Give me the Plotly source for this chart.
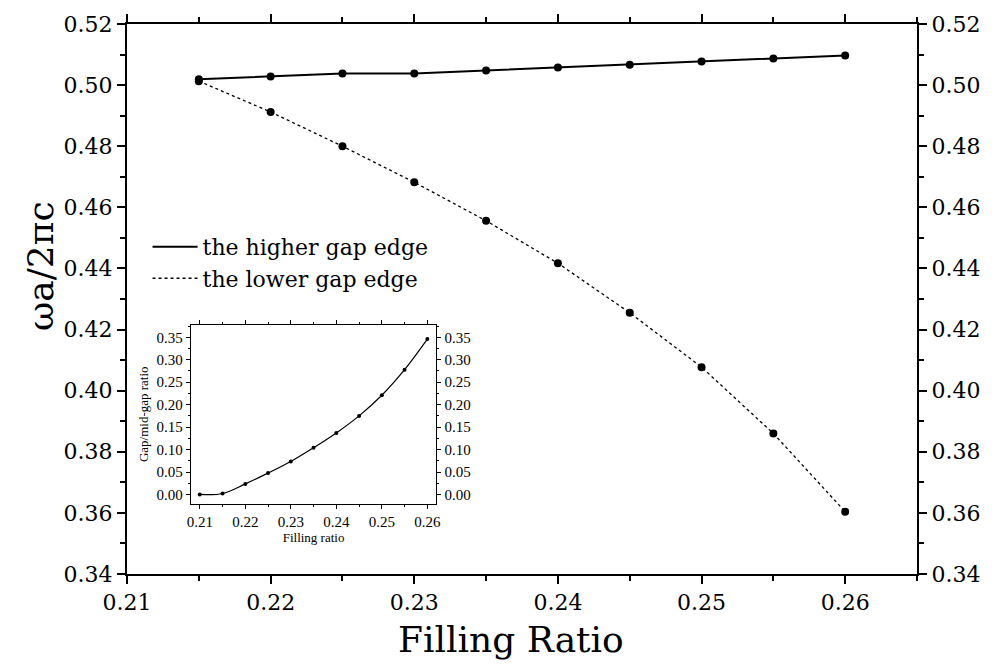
import plotly.graph_objects as go

filling = [0.215, 0.22, 0.225, 0.23, 0.235, 0.24, 0.245, 0.25, 0.255, 0.26]
higher_edge = [0.5019, 0.5028, 0.5038, 0.5038, 0.5048, 0.5058, 0.5067, 0.5077, 0.5087, 0.5097]
lower_edge = [0.5013, 0.4912, 0.4800, 0.4682, 0.4556, 0.4417, 0.4255, 0.4077, 0.3860, 0.3604]

inset_filling = [0.21, 0.215, 0.22, 0.225, 0.23, 0.235, 0.24, 0.245, 0.25, 0.255, 0.26]
gap_ratio = [0.0, 0.0022, 0.0235, 0.0477, 0.0734, 0.104, 0.137, 0.175, 0.221, 0.278, 0.346]

main_yticks = [0.34, 0.36, 0.38, 0.40, 0.42, 0.44, 0.46, 0.48, 0.50, 0.52]
main_xticks = [0.21, 0.22, 0.23, 0.24, 0.25, 0.26]
inset_yticks = [0.00, 0.05, 0.10, 0.15, 0.20, 0.25, 0.30, 0.35]
inset_xticks = [0.21, 0.22, 0.23, 0.24, 0.25, 0.26]

FONT = "Liberation Serif, serif"
BIG = "DejaVu Serif, Liberation Serif, serif"
fig = go.Figure()

# data traces
fig.add_trace(go.Scatter(x=filling, y=higher_edge, mode="lines+markers",
                         line=dict(color="black", width=2),
                         marker=dict(color="black", size=8), showlegend=False,
                         xaxis="x", yaxis="y"))
fig.add_trace(go.Scatter(x=filling, y=lower_edge, mode="lines+markers",
                         line=dict(color="black", width=1.3, dash="dot"),
                         marker=dict(color="black", size=8), showlegend=False,
                         xaxis="x", yaxis="y"))
# legend-only traces
fig.add_trace(go.Scatter(x=[None], y=[None], mode="lines", name="the higher gap edge",
                         line=dict(color="black", width=2)))
fig.add_trace(go.Scatter(x=[None], y=[None], mode="lines", name="the lower gap edge",
                         line=dict(color="black", width=1.3, dash="dot")))
# invisible trace for right axis
fig.add_trace(go.Scatter(x=[None], y=[None], xaxis="x", yaxis="y2", showlegend=False))

# inset
fig.add_trace(go.Scatter(x=inset_filling, y=gap_ratio, mode="lines+markers",
                         line=dict(color="black", width=1.2, shape="spline"),
                         marker=dict(color="black", size=4), showlegend=False,
                         xaxis="x3", yaxis="y3"))
fig.add_trace(go.Scatter(x=[None], y=[None], xaxis="x3", yaxis="y4", showlegend=False))

axis_common = dict(showline=True, linecolor="black", linewidth=2, showgrid=False,
                   zeroline=False, ticks="outside", tickcolor="black", tickwidth=1.5,
                   tickfont=dict(family=BIG, size=22, color="black"))

inset_common = dict(showline=True, linecolor="black", linewidth=1, showgrid=False,
                    zeroline=False, ticks="outside", tickcolor="black", tickwidth=1,
                    ticklen=4, tickfont=dict(family=FONT, size=15, color="black"))

fig.update_layout(
    width=992, height=668,
    margin=dict(l=127, r=71, t=18, b=94),
    plot_bgcolor="white", paper_bgcolor="white",
    font=dict(family=FONT, color="black"),
    showlegend=True,
    legend=dict(x=0.026, y=0.633, xanchor="left", yanchor="top",
                font=dict(family=BIG, size=22, color="black"),
                bgcolor="rgba(0,0,0,0)", tracegroupgap=0, itemwidth=45),
    xaxis=dict(axis_common, domain=[0, 1], range=[0.21, 0.265], tickvals=main_xticks,
               ticktext=[f"{v:.2f}" for v in main_xticks], ticklen=8, mirror="ticks",
               minor=dict(dtick=0.005, tick0=0.21, ticklen=5, ticks="outside", tickcolor="black", tickwidth=1.5),
               anchor="y"),
    yaxis=dict(axis_common, domain=[0, 1], range=[0.34, 0.52], tickvals=main_yticks,
               ticktext=[f"{v:.2f}" for v in main_yticks], ticklen=8, anchor="x",
               minor=dict(dtick=0.01, tick0=0.34, ticklen=5, ticks="outside", tickcolor="black", tickwidth=1.5)),
    yaxis2=dict(axis_common, range=[0.34, 0.52], tickvals=main_yticks,
                ticktext=[f"{v:.2f}" for v in main_yticks], ticklen=8,
                overlaying="y", side="right", anchor="x",
                minor=dict(dtick=0.01, tick0=0.34, ticklen=5, ticks="outside", tickcolor="black", tickwidth=1.5)),
    xaxis3=dict(inset_common, domain=[0.0806, 0.3917], range=[0.208, 0.262],
                tickvals=inset_xticks, ticktext=[f"{v:.2f}" for v in inset_xticks],
                mirror="ticks", anchor="y3",
                minor=dict(dtick=0.005, tick0=0.21, ticklen=2, ticks="outside", tickcolor="black"),
                title=dict(text="Filling ratio", font=dict(family=FONT, size=13, color="black"), standoff=4)),
    yaxis3=dict(inset_common, domain=[0.1277, 0.4532], range=[-0.0207, 0.378],
                tickvals=inset_yticks, ticktext=[f"{v:.2f}" for v in inset_yticks],
                anchor="x3",
                minor=dict(dtick=0.025, tick0=0, ticklen=2, ticks="outside", tickcolor="black"),
                title=dict(text="Gap/mid-gap ratio", font=dict(family=FONT, size=13, color="black"), standoff=4)),
    yaxis4=dict(inset_common, range=[-0.0207, 0.378], tickvals=inset_yticks,
                ticktext=[f"{v:.2f}" for v in inset_yticks],
                overlaying="y3", side="right", anchor="x3",
                minor=dict(dtick=0.025, tick0=0, ticklen=2, ticks="outside", tickcolor="black")),
    annotations=[
        dict(text="Filling Ratio", xref="paper", yref="paper", x=0.486, y=-0.119,
             xanchor="center", yanchor="middle", showarrow=False,
             font=dict(family=BIG, size=36, color="black")),
        dict(text="ωa/2πc", xref="paper", yref="paper", x=-0.11, y=0.56,
             xanchor="center", yanchor="middle", showarrow=False, textangle=-90,
             font=dict(family=BIG, size=36, color="black")),
    ],
)

fig.write_html("out.html")
